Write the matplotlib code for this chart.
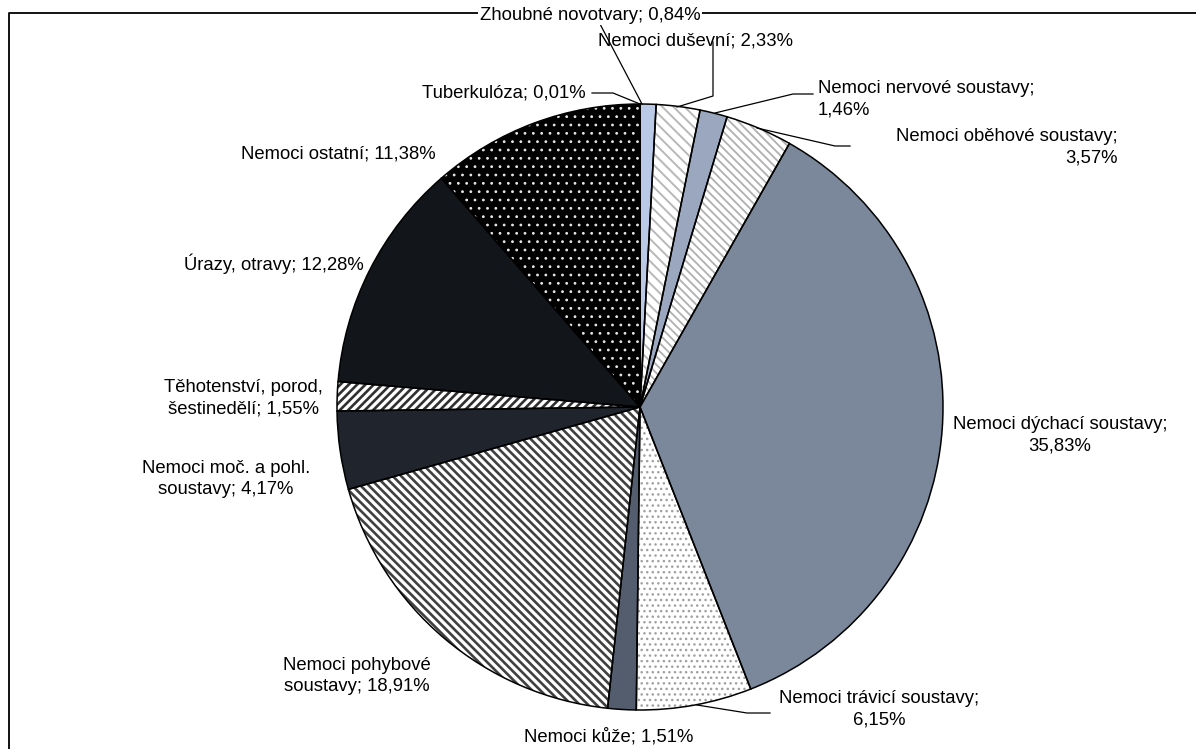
import matplotlib.pyplot as plt

plt.rcParams['font.family'] = ['Liberation Sans', 'DejaVu Sans']
plt.rcParams['hatch.linewidth'] = 1.5

# data (percent), clockwise from 12 o'clock
categories = ['Tuberkulóza', 'Zhoubné novotvary', 'Nemoci duševní',
              'Nemoci nervové soustavy', 'Nemoci oběhové soustavy',
              'Nemoci dýchací soustavy', 'Nemoci trávicí soustavy',
              'Nemoci kůže', 'Nemoci pohybové soustavy',
              'Nemoci moč. a pohl. soustavy', 'Těhotenství, porod, šestinedělí',
              'Úrazy, otravy', 'Nemoci ostatní']
values = [0.01, 0.84, 2.33, 1.46, 3.57, 35.83, 6.15, 1.51, 18.91, 4.17, 1.55, 12.28, 11.38]

# face colour, hatch, hatch colour, hatch linewidth
styles = [
    ('#ffffff', None, None, 0),
    ('#b9c9e6', None, None, 0),
    ('#ffffff', '\\\\\\', '#b8b8b8', 1.4),
    ('#9aa7bf', None, None, 0),
    ('#ffffff', '\\\\\\\\', '#b0b0b0', 1.3),
    ('#7b879b', None, None, 0),
    ('#ffffff', '...', '#a0a0a0', 1.0),
    ('#535d6d', None, None, 0),
    ('#ffffff', '\\\\\\\\', '#404040', 1.9),
    ('#20252d', None, None, 0),
    ('#ffffff', '////', '#303030', 1.9),
    ('#121519', None, None, 0),
    ('#000000', '..', '#e6e6e6', 0.8),
]

W, H = 1196, 749
fig = plt.figure(figsize=(W / 100, H / 100), dpi=100)
ax = fig.add_axes([0, 0, 1, 1])

cx, cy, r = 640, H - 407, 303

wedges, _ = ax.pie(values, startangle=90, counterclock=False, center=(cx, cy),
                   radius=r, frame=True, wedgeprops=dict(linewidth=0))
for w, (fc, hatch, hc, hlw) in zip(wedges, styles):
    w.set_facecolor(fc)
    if hatch:
        w.set_hatch(hatch)
        w.set_edgecolor(hc)
        if hasattr(w, 'set_hatch_linewidth'):
            w.set_hatch_linewidth(hlw)
# outlines
ax.pie(values, startangle=90, counterclock=False, center=(cx, cy),
       radius=r, frame=True,
       wedgeprops=dict(facecolor='none', edgecolor='black', linewidth=1.1))
ax.set_xlim(0, W)
ax.set_ylim(0, H)
ax.set_aspect('equal')
ax.axis('off')

# frame
ax.plot([8.5, 8.5, W], [0, H - 12.5, H - 12.5], color='black', linewidth=1.3, zorder=1)

fs = 13.3
ls = 1.35


def label(x, y, s, ha='center', ma='center', bg=False):
    kw = {}
    if bg:
        kw['bbox'] = dict(facecolor='white', edgecolor='none', pad=1)
    ax.text(x, H - y, s, ha=ha, va='center', fontsize=fs, color='black',
            linespacing=ls, multialignment=ma, zorder=5, **kw)


label(590, 15, 'Zhoubné novotvary; 0,84%', bg=True)
label(696, 41, 'Nemoci duševní; 2,33%')
label(818, 99, 'Nemoci nervové soustavy;\n1,46%', ha='left', ma='left')
label(1118, 147, 'Nemoci oběhové soustavy;\n3,57%', ha='right', ma='right')
label(1060, 435, 'Nemoci dýchací soustavy;\n35,83%')
label(879, 709, 'Nemoci trávicí soustavy;\n6,15%')
label(609, 737, 'Nemoci kůže; 1,51%')
label(357, 676, 'Nemoci pohybové\nsoustavy; 18,91%')
label(226, 479, 'Nemoci moč. a pohl.\nsoustavy; 4,17%')
label(243, 398, 'Těhotenství, porod,\nšestinedělí; 1,55%')
label(274, 264, 'Úrazy, otravy; 12,28%')
label(338, 154, 'Nemoci ostatní; 11,38%')
label(504, 93, 'Tuberkulóza; 0,01%')

# leader lines (pixel coords)
leaders = [
    [(592, 93), (613, 93), (640, 104)],
    [(600, 24), (642, 104)],
    [(713, 42), (713, 96), (677, 107)],
    [(813, 94), (793, 94), (715, 113)],
    [(850, 146), (835, 146), (757, 128)],
    [(770, 713), (747, 713), (697, 705)],
]
for pts in leaders:
    ax.plot([p[0] for p in pts], [H - p[1] for p in pts], color='black', linewidth=0.9)

fig.savefig('out.png', dpi=100)
